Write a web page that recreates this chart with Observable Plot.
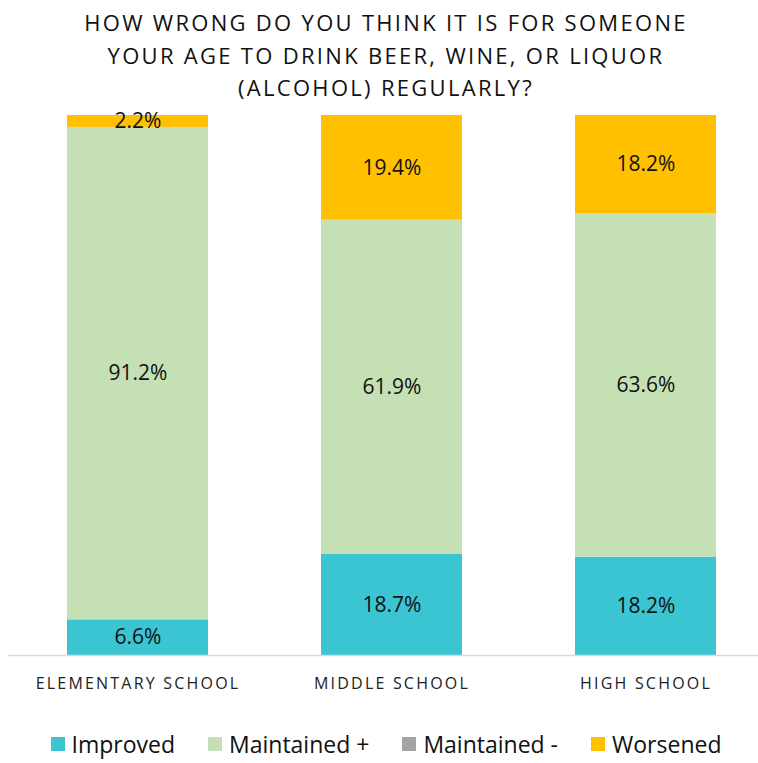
<!DOCTYPE html>
<html>
<head>
<meta charset="utf-8">
<script src="https://cdn.jsdelivr.net/npm/d3@7"></script>
<script src="https://cdn.jsdelivr.net/npm/@observablehq/plot@0.6"></script>
<style>
  html, body { margin: 0; padding: 0; background: #fff; }
  body { width: 758px; height: 763px; overflow: hidden; font-family: "Open Sans", sans-serif; color: #111; }
  #title { height: 105px; padding-top: 6px; padding-left: 14px; box-sizing: border-box; text-align: center; font-size: 22px; line-height: 32.5px; letter-spacing: 2.3px; }
  #chart svg { display: block; }
  #legend { display: flex; justify-content: center; gap: 33px; font-size: 23px; margin-top: 29px; padding-left: 14px; line-height: 30px; }
  #legend .item { display: flex; align-items: center; }
  #legend .sw { width: 14px; height: 14px; margin-right: 7px; }
</style>
</head>
<body>
<div id="title">HOW WRONG DO YOU THINK IT IS FOR SOMEONE<br>YOUR AGE TO DRINK BEER, WINE, OR LIQUOR<br>(ALCOHOL) REGULARLY?</div>
<div id="chart"></div>
<div id="legend"></div>
<script>
// School levels along the x axis
const schools = ["ELEMENTARY SCHOOL", "MIDDLE SCHOOL", "HIGH SCHOOL"];
// Response categories, bottom to top of each bar
const categories = ["Improved", "Maintained +", "Maintained -", "Worsened"];
const colors = ["#3BC4D2", "#C5E0B4", "#A5A5A5", "#FFC000"];
// Percent of students per category, one value per school level
const improved = [6.6, 18.7, 18.2];
const maintainedPlus = [91.2, 61.9, 63.6];
const maintainedMinus = [0, 0, 0];
const worsened = [2.2, 19.4, 18.2];

const series = [improved, maintainedPlus, maintainedMinus, worsened];
const rows = [];
categories.forEach((cat, i) => {
  schools.forEach((s, j) => rows.push({school: s, category: cat, value: series[i][j]}));
});
const labeled = rows.filter(d => d.value > 0);

const chart = Plot.plot({
  width: 758,
  height: 595,
  marginTop: 10,
  marginBottom: 45,
  marginLeft: 40,
  marginRight: 15,
  x: {domain: schools, paddingInner: 0.445, paddingOuter: 0.106, label: null, tickSize: 0, tickPadding: 22},
  y: {domain: [0, 100], axis: null},
  color: {domain: categories, range: colors},
  style: {fontFamily: "Open Sans, sans-serif", fontSize: "16px", color: "#222"},
  marks: [
    Plot.barY(rows, {x: "school", y: "value", fill: "category", order: categories}),
    Plot.ruleY([0], {stroke: "#d9d9d9", strokeWidth: 1.5, insetLeft: -32, insetRight: -15}),
    Plot.text(labeled, Plot.stackY({
      x: "school", y: "value", z: "category", order: categories,
      text: d => d.value.toFixed(1) + "%",
      fontSize: 21, fill: "#111"
    }))
  ]
});
chart.querySelectorAll("[aria-label='x-axis tick label'] text").forEach(t => t.setAttribute("letter-spacing", "2.2px"));
document.getElementById("chart").appendChild(chart);

const legend = document.getElementById("legend");
categories.forEach((c, i) => {
  const item = document.createElement("div");
  item.className = "item";
  item.innerHTML = `<span class="sw" style="background:${colors[i]}"></span><span>${c}</span>`;
  legend.appendChild(item);
});
</script>
</body>
</html>
